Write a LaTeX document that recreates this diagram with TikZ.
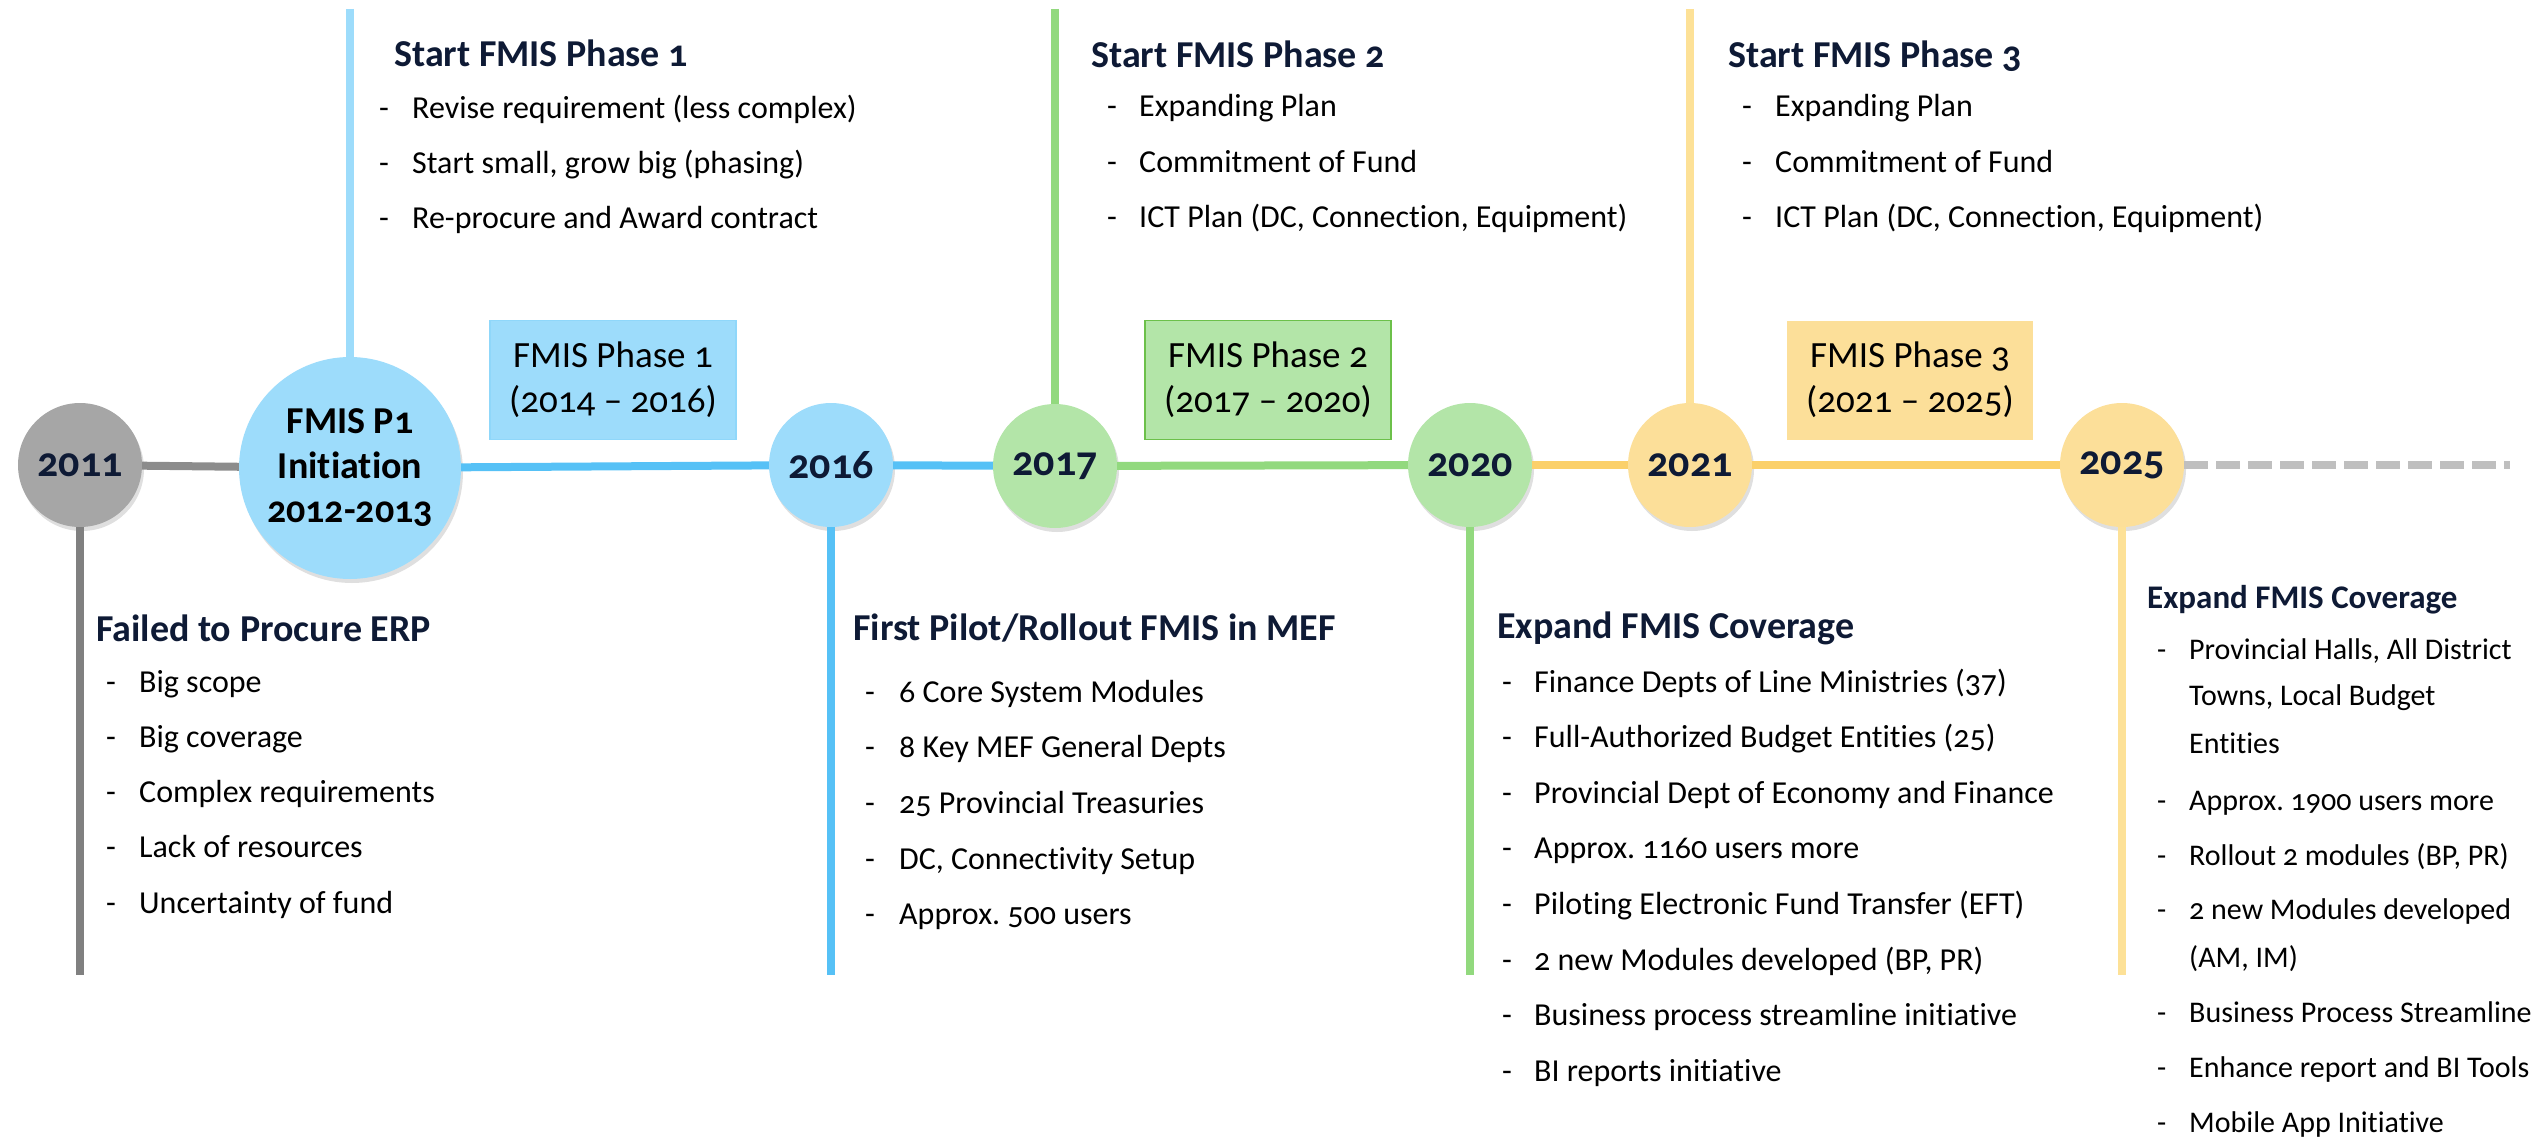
\documentclass[tikz,border=0pt]{standalone}
\usepackage{fontspec}
\setmainfont{Carlito}[Numbers=OldStyle, Ligatures=NoCommon]
\usetikzlibrary{positioning, shadows}
\frenchspacing

\definecolor{navy}{HTML}{0E1A35}
\definecolor{grayc}{HTML}{A6A6A6}
\definecolor{grayl}{HTML}{8C8C8C}
\definecolor{bluec}{HTML}{9DDCFB}
\definecolor{bluel}{HTML}{56C1F6}
\definecolor{greenc}{HTML}{B3E5A8}
\definecolor{greenl}{HTML}{92D97E}
\definecolor{greenb}{HTML}{6CC04A}
\definecolor{yellowc}{HTML}{FCDF99}
\definecolor{yellowl}{HTML}{FBD06A}
\definecolor{yellowt}{HTML}{FDE197}
\definecolor{dashc}{HTML}{BFBFBF}

\begin{document}
\begin{tikzpicture}[x=1pt, y=-1pt,
  year/.style={circle, minimum size=124pt, inner sep=0pt, text=navy,
    font=\fontsize{42}{44.5}\selectfont\bfseries,
    drop shadow={opacity=0.25, shadow xshift=2pt, shadow yshift=-4pt}},
  phase/.style={rectangle, minimum width=246pt, minimum height=119pt, inner sep=0pt,
    align=center, font=\fontsize{37}{45}\selectfont},
  tl/.style={line width=8pt},
  title/.style={anchor=base west, inner sep=0pt, text=navy,
    font=\fontsize{38}{44}\selectfont\bfseries},
  item/.style={anchor=base west, inner sep=0pt, font=\fontsize{32}{38}\selectfont},
  smalltitle/.style={title, font=\fontsize{33}{38}\selectfont\bfseries},
  smallitem/.style={item, font=\fontsize{30}{36}\selectfont}]
\useasboundingbox (0,0) rectangle (2539,1137);

% milestones
\node[year, fill=grayc] (y2011) at (80,465) {2011};
\node[year, fill=bluec, minimum size=222pt, text=black, align=center,
  font=\fontsize{38}{44.5}\selectfont\bfseries] (p1) at (350,468)
  {FMIS P1\\Initiation\\2012-2013};
\node[year, fill=bluec] (y2016) at (831,465) {2016};
\node[year, fill=greenc] (y2017) at (1055,466) {2017};
\node[year, fill=greenc] (y2020) at (1470,465) {2020};
\node[year, fill=yellowc] (y2021) at (1690,465) {2021};
\node[year, fill=yellowc] (y2025) at (2122,465) {2025};

% phase boxes
\node[phase, fill=bluec, draw=bluec!80!bluel, line width=1.5pt] (ph1) at (613,380)
  {FMIS Phase 1\\(2014 – 2016)};
\node[phase, fill=greenc, draw=greenb, line width=1.5pt] (ph2) at (1268,380)
  {FMIS Phase 2\\(2017 – 2020)};
\node[phase, fill=yellowc] (ph3) at (1910,380)
  {FMIS Phase 3\\(2021 – 2025)};

% timeline
\draw[tl, grayl] (y2011) -- (p1);
\draw[tl, bluel] (p1) -- (y2016);
\draw[tl, bluel] (y2016) -- (y2017);
\draw[tl, greenl] (y2017) -- (y2020);
\draw[tl, yellowl] (y2020) -- (y2021);
\draw[tl, yellowl] (y2021) -- (y2025);
\coordinate (later) at (2510,465);
\draw[tl, dashc, dash pattern=on 24pt off 8pt] (y2025) -- (later);

% stems
\coordinate (p1top) at (350,9);
\coordinate (y2017top) at (1055,9);
\coordinate (y2021top) at (1690,9);
\coordinate (y2011end) at (80,975);
\coordinate (y2016end) at (831,975);
\coordinate (y2020end) at (1470,975);
\coordinate (y2025end) at (2122,975);
\draw[tl, bluec] (p1top) -- (p1);
\draw[tl, greenl] (y2017top) -- (y2017);
\draw[tl, yellowt] (y2021top) -- (y2021);
\draw[tl, gray] (y2011) -- (y2011end);
\draw[tl, bluel] (y2016) -- (y2016end);
\draw[tl, greenl] (y2020) -- (y2020end);
\draw[tl, yellowt] (y2025) -- (y2025end);

% top notes
\node[title] (t1) at (394,67) {Start FMIS Phase 1};
\foreach \t [count=\i from 0] in {Revise requirement (less complex),
    {Start small, grow big (phasing)}, Re-procure and Award contract} {
  \node[item] (t1d\i) at (379,118+55*\i) {-};
  \node[item] (t1i\i) at (412,118+55*\i) {\t};
}
\node[title] (t2) at (1091,68) {Start FMIS Phase 2};
\foreach \t [count=\i from 0] in {Expanding Plan, Commitment of Fund,
    {ICT Plan (DC, Connection, Equipment)}} {
  \node[item] (t2d\i) at (1107,117+55*\i) {-};
  \node[item] (t2i\i) at (1139,117+55*\i) {\t};
}
\node[title] (t3) at (1728,68) {Start FMIS Phase 3};
\foreach \t [count=\i from 0] in {Expanding Plan, Commitment of Fund,
    {ICT Plan (DC, Connection, Equipment)}} {
  \node[item] (t3d\i) at (1742,117+55*\i) {-};
  \node[item] (t3i\i) at (1775,117+55*\i) {\t};
}

% bottom notes
\node[title] (b1) at (96,641) {Failed to Procure ERP};
\foreach \t [count=\i from 0] in {Big scope, Big coverage, Complex requirements,
    Lack of resources, Uncertainty of fund} {
  \node[item] (b1d\i) at (106,692+55.3*\i) {-};
  \node[item] (b1i\i) at (139,692+55.3*\i) {\t};
}
\node[title] (b2) at (853,640) {First Pilot/Rollout FMIS in MEF};
\foreach \t [count=\i from 0] in {6 Core System Modules, 8 Key MEF General Depts,
    25 Provincial Treasuries, {DC, Connectivity Setup}, Approx. 500 users} {
  \node[item] (b2d\i) at (865,702+55.7*\i) {-};
  \node[item] (b2i\i) at (899,702+55.7*\i) {\t};
}
\node[title] (b3) at (1497,638) {Expand FMIS Coverage};
\foreach \t [count=\i from 0] in {Finance Depts of Line Ministries (37),
    Full-Authorized Budget Entities (25), Provincial Dept of Economy and Finance,
    Approx. 1160 users more, Piloting Electronic Fund Transfer (EFT),
    {2 new Modules developed (BP, PR)}, Business process streamline initiative,
    BI reports initiative} {
  \node[item] (b3d\i) at (1502,692+55.6*\i) {-};
  \node[item] (b3i\i) at (1534,692+55.6*\i) {\t};
}
\node[smalltitle] (b4) at (2147,608) {Expand FMIS Coverage};
\foreach \yy in {659,810,865,919,1022,1077,1132}
  \node[smallitem] (b4d\yy) at (2157,\yy) {-};
\foreach \yy/\t in {659/{Provincial Halls, All District}, 705/{Towns, Local Budget},
    753/Entities, 810/Approx. 1900 users more, 865/{Rollout 2 modules (BP, PR)},
    919/2 new Modules developed, 967/{(AM, IM)}, 1022/Business Process Streamline,
    1077/Enhance report and BI Tools, 1132/Mobile App Initiative}
  \node[smallitem] (b4i\yy) at (2189,\yy) {\t};
\end{tikzpicture}
\end{document}
